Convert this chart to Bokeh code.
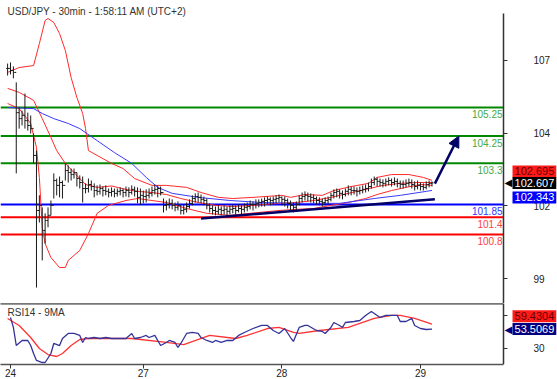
from bokeh.plotting import figure
from bokeh.models import Range1d, LinearAxis, FixedTicker, Label, Arrow, NormalHead
from bokeh.layouts import column
from bokeh.embed import file_html
from bokeh.resources import INLINE
from bokeh.core.properties import value

FONT = "Liberation Sans"

# ---------------- data ----------------
title_text = "USD/JPY - 30min - 1:58:11 AM (UTC+2)"
rsi_title = "RSI14 - 9MA"

highs = [106.79,106.83,106.69,106.13,105.25,105.14,105.74,105.07,104.97,104.34,
         103.74,102.17,101.75,101.54,101.75,101.99,102.94,102.76,102.83,102.69,
         103.29,103.22,103.11,103.11,102.97,102.87,102.83,102.59,102.76,102.69,
         102.59,102.52,102.55,102.48,102.52,102.41,102.45,102.41,102.41,102.45,
         102.41,102.48,102.45,102.52,102.48,102.45,102.41,102.34,102.38,102.41,
         102.48,102.55,102.52,102.48,102.06,101.99,102.06,102.03,101.92,101.96,
         101.82,101.85,101.92,102.03,102.17,102.24,102.27,102.20,102.13,102.06,
         101.89,101.82,101.78,101.82,101.78,101.82,101.78,101.82,101.85,101.82,
         101.85,101.82,101.89,101.92,101.99,101.96,102.03,102.03,102.06,102.10,
         102.13,102.10,102.13,102.17,102.20,102.13,102.13,102.06,101.99,101.92,
         101.96,102.17,102.27,102.31,102.27,102.24,102.20,102.13,102.10,102.06,
         102.10,102.13,102.27,102.38,102.41,102.38,102.34,102.41,102.52,102.48,
         102.48,102.45,102.48,102.52,102.55,102.62,102.76,102.83,102.80,102.76,
         102.73,102.76,102.80,102.76,102.80,102.76,102.69,102.69,102.73,102.76,
         102.73,102.66,102.69,102.62,102.59,102.66,102.69,102.66]
lows = [106.37,106.41,106.27,102.94,104.51,104.62,104.51,104.44,104.34,103.29,
        98.94,101.22,99.89,100.48,101.05,101.47,102.06,102.17,102.10,102.06,
        102.69,102.62,102.69,102.76,102.48,102.41,101.92,102.24,102.27,102.34,
        102.10,102.17,102.20,102.13,102.17,102.10,102.13,102.10,102.13,102.17,
        102.10,102.13,102.10,102.20,102.13,101.89,101.85,101.89,101.92,102.06,
        102.13,102.20,102.10,102.17,101.57,101.64,101.71,101.68,101.61,101.64,
        101.50,101.50,101.57,101.71,101.82,101.92,101.92,101.89,101.82,101.68,
        101.57,101.50,101.47,101.50,101.47,101.50,101.43,101.50,101.54,101.50,
        101.57,101.50,101.57,101.61,101.68,101.64,101.71,101.75,101.78,101.78,
        101.85,101.82,101.85,101.89,101.92,101.82,101.78,101.71,101.64,101.57,
        101.61,101.82,101.92,101.99,101.96,101.92,101.89,101.85,101.82,101.78,
        101.82,101.85,101.96,102.06,102.10,102.06,102.03,102.13,102.17,102.17,
        102.20,102.13,102.20,102.24,102.27,102.31,102.41,102.52,102.48,102.48,
        102.45,102.48,102.52,102.48,102.52,102.45,102.41,102.41,102.45,102.48,
        102.41,102.34,102.38,102.34,102.34,102.38,102.45,102.48]
closes = [106.62,106.55,106.48,105.07,104.86,104.97,104.79,104.62,104.51,103.57,
          101.64,101.82,100.94,101.29,101.47,101.82,102.69,102.52,102.62,102.52,
          103.04,102.97,102.90,102.97,102.76,102.62,102.41,102.41,102.55,102.48,
          102.34,102.31,102.41,102.34,102.31,102.27,102.31,102.24,102.31,102.34,
          102.27,102.34,102.27,102.38,102.31,102.10,102.17,102.13,102.17,102.24,
          102.34,102.38,102.41,102.27,101.82,101.85,101.89,101.82,101.75,101.82,
          101.64,101.68,101.78,101.89,102.06,102.13,102.10,102.03,101.99,101.82,
          101.71,101.64,101.61,101.68,101.64,101.68,101.61,101.68,101.71,101.64,
          101.71,101.68,101.75,101.78,101.85,101.85,101.89,101.92,101.96,101.99,
          102.03,101.99,102.03,102.06,102.10,102.03,101.99,101.89,101.82,101.75,
          101.85,102.06,102.13,102.17,102.13,102.10,102.06,101.99,101.96,101.92,
          101.99,102.03,102.17,102.27,102.31,102.24,102.20,102.31,102.38,102.34,
          102.34,102.31,102.34,102.38,102.41,102.48,102.62,102.73,102.66,102.62,
          102.59,102.66,102.69,102.62,102.66,102.59,102.55,102.55,102.59,102.62,
          102.55,102.48,102.52,102.48,102.45,102.55,102.59,102.607]

upper_idx = [0,4,9,11,13,14,16,18,20,22,24,26,27,28,31,36,40,44,50,55,62,67,73,78,85,95,98,103,109,113,119,125,128,133,139,144,147]
upper = [106.48,106.65,106.72,107.49,108.30,108.37,108.23,107.84,107.25,106.30,105.60,105.04,104.51,103.74,103.57,103.29,103.11,102.76,102.52,102.52,102.45,102.27,102.10,102.06,102.10,102.17,102.10,102.20,102.17,102.34,102.48,102.59,102.80,102.90,102.90,102.80,102.695]
mid_idx = [0,4,9,12,15,17,20,23,27,31,36,41,45,50,55,60,66,72,78,85,94,100,106,112,118,124,130,136,142,147]
mid = [105.92,105.78,105.50,104.86,104.20,103.74,103.29,102.97,102.55,102.45,102.50,102.38,102.31,102.27,102.20,102.06,101.92,101.82,101.78,101.82,101.89,101.92,101.99,102.10,102.24,102.38,102.52,102.59,102.62,102.62]
lower_idx = [0,4,8,10,11,12,13,15,18,20,21,25,28,31,35,41,45,55,62,69,77,84,94,100,106,112,118,124,128,133,138,143,147]
lower = [105.39,105.21,104.69,103.85,102.80,101.04,100.48,99.99,99.64,99.64,99.89,100.24,100.83,101.54,101.82,101.99,102.06,101.92,101.71,101.54,101.47,101.54,101.64,101.68,101.71,101.82,101.92,102.06,102.20,102.34,102.45,102.55,102.52]
ma_idx = [0,9,12,16,21,25,31,37,43,48,52,57,66,77,88,100,115,127,136,145,147]
ma = [105.25,105.21,105.04,104.86,104.69,104.51,104.09,103.67,103.29,102.80,102.45,102.24,102.10,101.99,101.92,101.89,101.89,102.06,102.17,102.31,102.343]

trend_idx = [67, 148]
trend_val = [101.36, 102.03]
arrow_idx = [148, 156.3]
arrow_val = [102.58, 104.25]

green_levels = [105.25, 104.25, 103.3]
green_labels = ["105.25", "104.25", "103.3"]
blue_levels = [101.85]
blue_labels = ["101.85"]
red_levels = [101.4, 100.8]
red_labels = ["101.4", "100.8"]

price_ticks = [106.9, 104.35, 101.8, 99.25]
price_tick_labels = ["107", "104", "102", "99"]

last_upper = 102.695
last_close = 102.607
last_ma = 102.343

rsi_idx = [1,2,3,5,7,8,9,10,12,13,15,16,18,19,21,23,25,26,27,28,30,32,34,36,38,41,43,44,46,48,49,51,52,53,55,56,58,59,60,62,64,66,67,69,71,72,74,76,78,80,82,85,88,90,92,94,96,98,99,101,103,104,107,109,110,112,113,115,116,117,120,122,124,126,127,129,131,133,135,136,138,140,141,143,145,147]
rsi = [67.6,55.5,33.6,39.7,39.7,33.6,23.9,15.5,13.0,13.0,23.9,36.1,33.6,42.1,48.2,48.2,45.8,37.3,43.3,42.1,43.3,42.1,43.3,42.1,42.1,42.1,48.2,42.1,43.3,45.8,43.3,45.8,39.7,33.6,37.3,39.7,37.3,31.2,36.1,48.2,49.4,48.2,43.3,39.7,37.3,39.7,37.3,39.7,39.7,45.8,49.4,54.2,57.9,57.9,51.8,48.2,54.2,43.3,38.5,55.5,57.9,57.9,51.8,50.6,48.2,55.5,61.5,57.9,55.5,61.5,62.7,63.9,70.0,74.8,72.4,67.6,70.0,70.0,70.0,62.7,62.7,66.4,57.9,54.2,53.0,53.5069]
rsi_ma_idx = [0,4,8,11,14,17,19,22,25,28,43,55,61,70,79,83,90,94,99,101,108,118,127,133,136,141,147]
rsi_ma = [66.4,57.9,43.3,30.0,22.7,20.3,23.9,33.6,40.9,42.1,42.1,37.3,34.8,45.8,42.1,45.8,54.2,55.5,49.4,48.2,51.8,55.5,66.4,70.0,70.0,66.4,59.4304]
rsi_ticks = [30, 70]
rsi_tick_labels = ["30", "70"]

day_ticks = [1, 47, 95, 143]
day_labels = ["24", "27", "28", "29"]

# ---------------- layout constants ----------------
W = 557
x_start, x_end = -2.46, 190.47     # frame spans the full width
axis_x = 171.77                    # where the price axis sits
price_lo, price_hi, price_top = 98.38, 108.54, 109.0
xr = Range1d(x_start, x_end)


def style_right_axis(ax):
    ax.axis_line_color = "#333333"
    ax.axis_line_width = 1.5
    ax.major_tick_line_color = "#333333"
    ax.major_tick_out = 4
    ax.major_tick_in = 0
    ax.minor_tick_out = 0
    ax.minor_tick_in = 0
    ax.major_label_standoff = 26
    ax.major_label_text_font = FONT
    ax.major_label_text_font_size = "10px"
    ax.major_label_text_color = "#222222"


def value_box(fig, yv, txt, bg, fg, yoff, pointer=False):
    fig.add_layout(Label(x=axis_x, y=yv, x_offset=9, y_offset=yoff, text=txt,
                         text_font=FONT, text_font_size="11px", text_color=fg,
                         text_baseline="middle", background_fill_color=bg,
                         padding=2))
    if pointer:
        fig.add_layout(Label(x=axis_x, y=yv, x_offset=1, y_offset=yoff,
                             text="\u25c0", text_font="DejaVu Sans", text_font_size="10px",
                             text_color=bg, text_baseline="middle"))


# ---------------- main panel ----------------
p = figure(width=W, height=303, output_backend="svg", toolbar_location=None,
           x_range=xr, y_range=Range1d(price_lo, price_top),
           x_axis_location=None, y_axis_location=None,
           min_border_left=0, min_border_right=0, min_border_top=0, min_border_bottom=0)
p.outline_line_color = None
p.grid.visible = False

yax = LinearAxis(ticker=FixedTicker(ticks=price_ticks), fixed_location=axis_x,
                 bounds=(price_lo, price_hi),
                 major_label_overrides={t: l for t, l in zip(price_ticks, price_tick_labels)})
style_right_axis(yax)
p.add_layout(yax, "right")

lvl_y = green_levels + blue_levels + red_levels
lvl_t = green_labels + blue_labels + red_labels
lvl_line = ["#008800"] * len(green_levels) + ["#0000ff"] * len(blue_levels) + ["#ff0000"] * len(red_levels)
lvl_txt = ["#44aa44"] * len(green_levels) + ["#3333ff"] * len(blue_levels) + ["#ff4040"] * len(red_levels)
p.segment(x0=[x_start] * len(lvl_y), x1=[axis_x] * len(lvl_y), y0=lvl_y, y1=lvl_y,
          line_color=lvl_line, line_width=2)
p.text(x=[axis_x] * len(lvl_y), y=lvl_y, text=lvl_t, text_color=lvl_txt,
       text_align="right", text_baseline="top", x_offset=-1, y_offset=3,
       text_font=value(FONT), text_font_size="10px")

# bands and MA
p.line(upper_idx, upper, line_color="#ff2a2a", line_width=1)
p.line(mid_idx, mid, line_color="#ff2a2a", line_width=1)
p.line(lower_idx, lower, line_color="#ff2a2a", line_width=1)
p.line(ma_idx, ma, line_color="#3a3aff", line_width=1)

# OHLC bars
idx = list(range(len(closes)))
opens = [closes[0]] + closes[:-1]
p.segment(x0=idx, y0=lows, x1=idx, y1=highs, line_color="#1a1a1a", line_width=1)
p.segment(x0=[i - 0.5 for i in idx], y0=opens, x1=idx, y1=opens, line_color="#1a1a1a", line_width=1)
p.segment(x0=idx, y0=closes, x1=[i + 0.5 for i in idx], y1=closes, line_color="#1a1a1a", line_width=1)

# trend line and arrow
p.line(trend_idx, trend_val, line_color="#000066", line_width=2.5)
p.add_layout(Arrow(end=NormalHead(size=11, fill_color="#000066", line_color="#000066"),
                   x_start=arrow_idx[0], y_start=arrow_val[0],
                   x_end=arrow_idx[1], y_end=arrow_val[1],
                   line_color="#000066", line_width=2.5))

p.add_layout(Label(x=x_start, y=price_top, x_offset=7, y_offset=-5, text=title_text,
                   text_font=FONT, text_font_size="10px", text_color="#333333",
                   text_baseline="top"))

value_box(p, last_upper, "102.695", "#ff1a1a", "#6a0000", 9)
value_box(p, last_close, "102.607", "#000000", "#ffffff", 0, pointer=True)
value_box(p, last_ma, "102.343", "#0000ff", "#ffffff", -7)

# ---------------- RSI panel ----------------
r = figure(width=W, height=76, output_backend="svg", toolbar_location=None,
           x_range=xr, y_range=Range1d(10.6, 84.5),
           x_axis_location=None, y_axis_location=None,
           min_border_left=0, min_border_right=0, min_border_top=0, min_border_bottom=15)
r.outline_line_color = None
r.grid.visible = False

sep = LinearAxis(ticker=FixedTicker(ticks=[]), bounds=(x_start, axis_x))
sep.axis_line_color = "#777777"
sep.axis_line_width = 2.5
sep.major_tick_out = 0
sep.major_tick_in = 0
sep.minor_tick_out = 0
sep.minor_tick_in = 0
sep.major_label_text_font_size = "0px"
sep.major_label_standoff = 0
r.add_layout(sep, "above")

xax = LinearAxis(ticker=FixedTicker(ticks=day_ticks), bounds=(x_start, axis_x),
                 major_label_overrides={t: l for t, l in zip(day_ticks, day_labels)})
xax.axis_line_color = "#555555"
xax.axis_line_width = 1.5
xax.major_tick_line_color = "#333333"
xax.major_tick_out = 4
xax.major_tick_in = 0
xax.minor_tick_out = 0
xax.minor_tick_in = 0
xax.major_label_standoff = 0
xax.major_label_text_align = "left"
xax.major_label_text_font = FONT
xax.major_label_text_font_size = "10px"
xax.major_label_text_color = "#222222"
r.add_layout(xax, "below")

rax = LinearAxis(ticker=FixedTicker(ticks=rsi_ticks), fixed_location=axis_x,
                 major_label_overrides={t: l for t, l in zip(rsi_ticks, rsi_tick_labels)})
style_right_axis(rax)
r.add_layout(rax, "right")

r.line(rsi_ma_idx, rsi_ma, line_color="#ff3333", line_width=1.3)
r.line(rsi_idx, rsi, line_color="#333399", line_width=1.3)

r.add_layout(Label(x=x_start, y=84.5, x_offset=7, y_offset=-3, text=rsi_title,
                   text_font=FONT, text_font_size="10px", text_color="#333333",
                   text_baseline="top"))

value_box(r, rsi_ma[-1], "59.4304", "#ff1a1a", "#6a0000", 8)
value_box(r, rsi[-1], "53.5069", "#000080", "#ffffff", 0, pointer=True)

layout = column(p, r)
open("out.html", "w").write(file_html(layout, INLINE))
